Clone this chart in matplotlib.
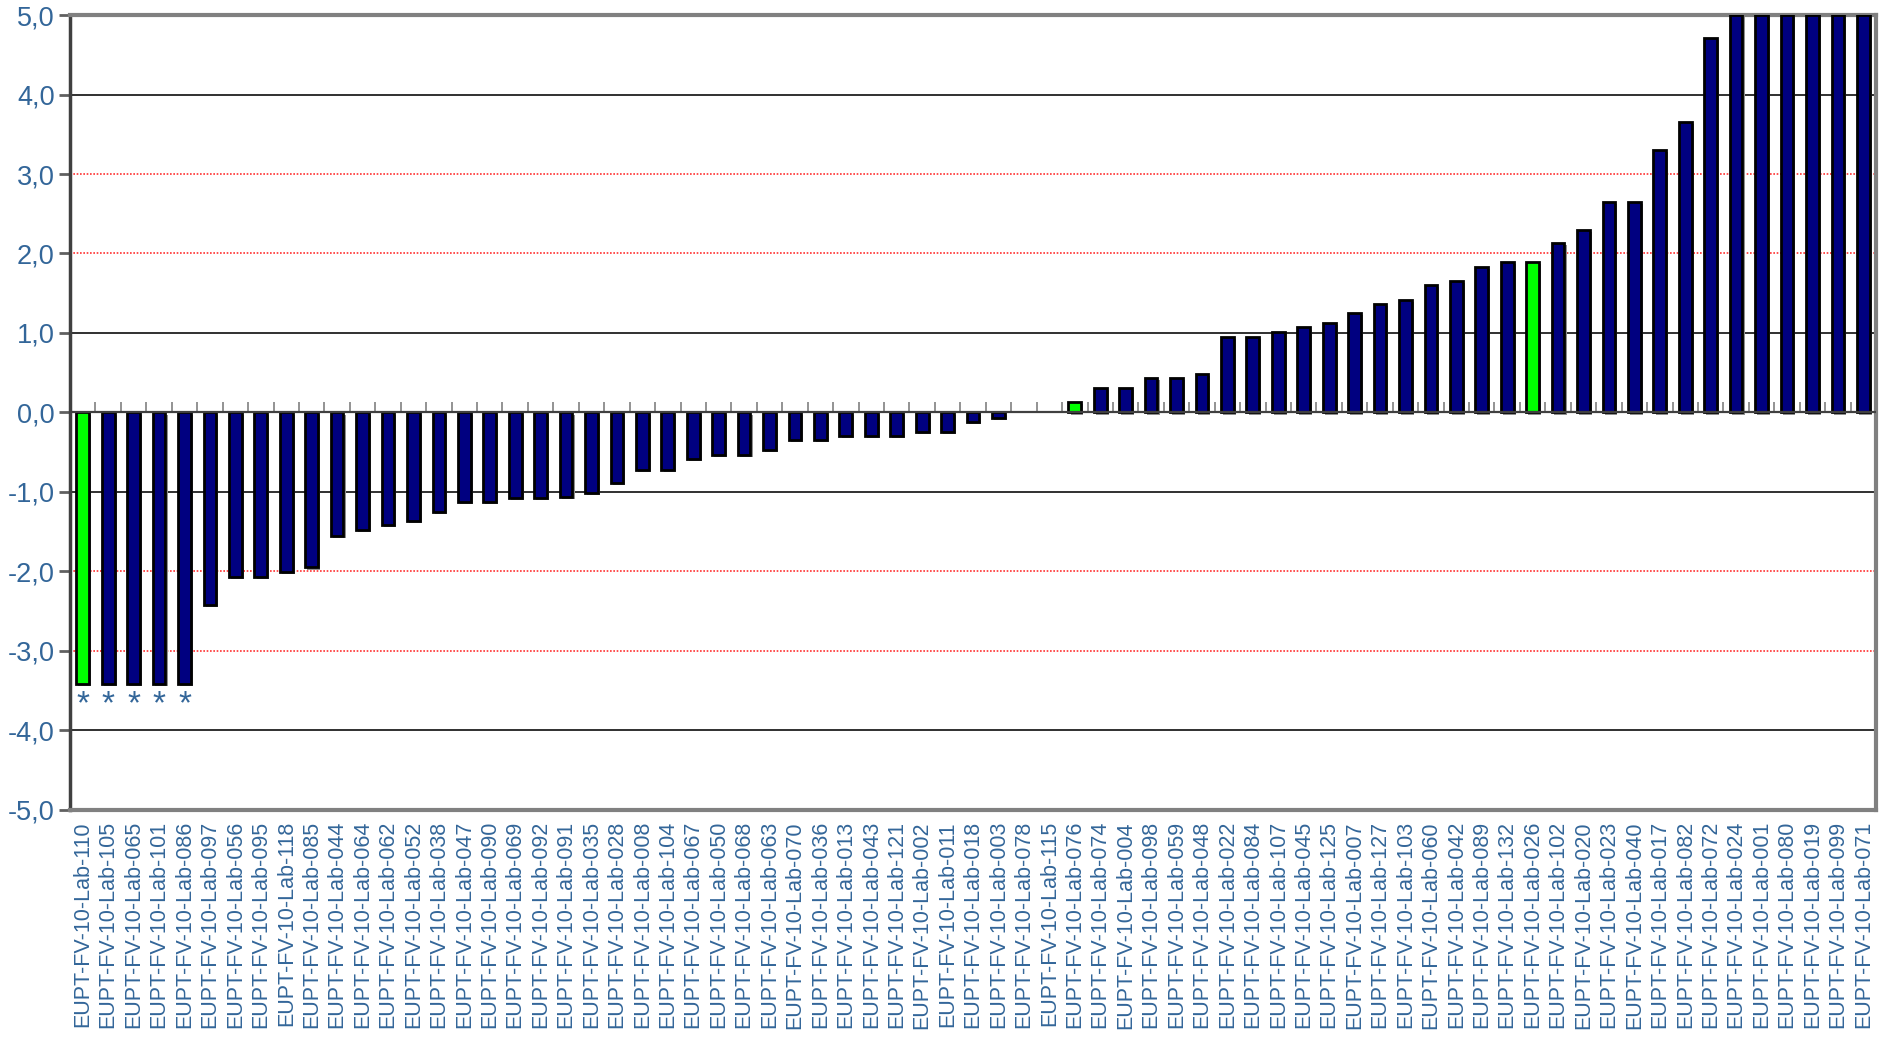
import numpy as np
import matplotlib.pyplot as plt
import matplotlib.patheffects as pe

# laboratory codes, sorted by z-score
labs = ["110", "105", "065", "101", "086", "097", "056", "095", "118", "085",
        "044", "064", "062", "052", "038", "047", "090", "069", "092", "091",
        "035", "028", "008", "104", "067", "050", "068", "063", "070", "036",
        "013", "043", "121", "002", "011", "018", "003", "078", "115", "076",
        "074", "004", "098", "059", "048", "022", "084", "107", "045", "125",
        "007", "127", "103", "060", "042", "089", "132", "026", "102", "020",
        "023", "040", "017", "082", "072", "024", "001", "080", "019", "099",
        "071"]

z_scores = [-3.42, -3.42, -3.42, -3.42, -3.42, -2.42, -2.07, -2.07, -2.01, -1.95,
            -1.55, -1.48, -1.42, -1.37, -1.25, -1.13, -1.13, -1.07, -1.07, -1.06,
            -1.01, -0.89, -0.72, -0.72, -0.59, -0.54, -0.54, -0.47, -0.35, -0.35,
            -0.30, -0.30, -0.30, -0.25, -0.25, -0.12, -0.07, 0.0, 0.0, 0.13,
            0.31, 0.31, 0.43, 0.43, 0.48, 0.95, 0.95, 1.01, 1.07, 1.13,
            1.25, 1.36, 1.42, 1.60, 1.66, 1.83, 1.89, 1.89, 2.13, 2.30,
            2.65, 2.65, 3.30, 3.65, 4.71, 5.0, 5.0, 5.0, 5.0, 5.0,
            5.0]

# highlighted labs and labs marked with an asterisk
highlighted = ["110", "076", "026"]
starred = ["110", "105", "065", "101", "086"]

tick_labels = ["EUPT-FV-10-Lab-" + l for l in labs]
blue_text = "#336699"

plt.rcParams["font.family"] = ["Liberation Sans", "DejaVu Sans"]

fig = plt.figure(figsize=(18.83, 10.37), dpi=100)
ax = fig.add_axes([0.0372, 0.219, 0.9591, 0.7665])

x = np.arange(len(labs))
colors = ["#00FF00" if l in highlighted else "#000080" for l in labs]

# reference lines
for y in [-4, -1, 1, 4]:
    ax.axhline(y, color="#202020", lw=1.3, zorder=1)
for y in [-3, -2, 2, 3]:
    ax.axhline(y, color="#FF3030", lw=1.2, ls=(0, (1, 1)), zorder=1)

bars = ax.bar(x, z_scores, width=0.5, color=colors, edgecolor="black",
              linewidth=2.0, zorder=3)
for b, v in zip(bars, z_scores):
    if v == 0:
        b.set_visible(False)
        continue
    b.set_path_effects([pe.SimplePatchShadow(offset=(1.5, -1.5),
                                             shadow_rgbFace="#909090", alpha=1.0),
                        pe.Normal()])

# zero line with category tick marks
ax.axhline(0, color="#404040", lw=1.6, zorder=4)
zero_axis = ax.secondary_xaxis(0.5)
zero_axis.set_xticks(np.arange(len(labs) + 1) - 0.5)
zero_axis.tick_params(direction="out", length=7, width=1.2, color="#808080",
                      labelbottom=False, labeltop=False)
zero_axis.spines["bottom"].set_visible(False)
zero_axis.spines["top"].set_visible(False)

for i, l in enumerate(labs):
    if l in starred:
        ax.text(i, z_scores[i] - 0.06, "*", ha="center", va="top",
                fontsize=24, color=blue_text, zorder=5)

ax.set_xlim(-0.5, len(labs) - 0.5)
ax.set_ylim(-5, 5)
ax.set_xticks(x)
ax.set_xticklabels(tick_labels, rotation=90, fontsize=15.5, color=blue_text)
ax.tick_params(axis="x", length=0, pad=8)

yticks = np.arange(-5, 6, 1)
ax.set_yticks(yticks)
ax.set_yticklabels([f"{v:.1f}".replace(".", ",") for v in yticks],
                   fontsize=19.5, color=blue_text)
ax.tick_params(axis="y", direction="out", length=8, width=2, color="#606060", pad=3)

for side in ["top", "right", "bottom"]:
    ax.spines[side].set_color("#808080")
    ax.spines[side].set_linewidth(3)
ax.spines["left"].set_color("#404040")
ax.spines["left"].set_linewidth(2.5)

fig.savefig("out.png", dpi=100)
